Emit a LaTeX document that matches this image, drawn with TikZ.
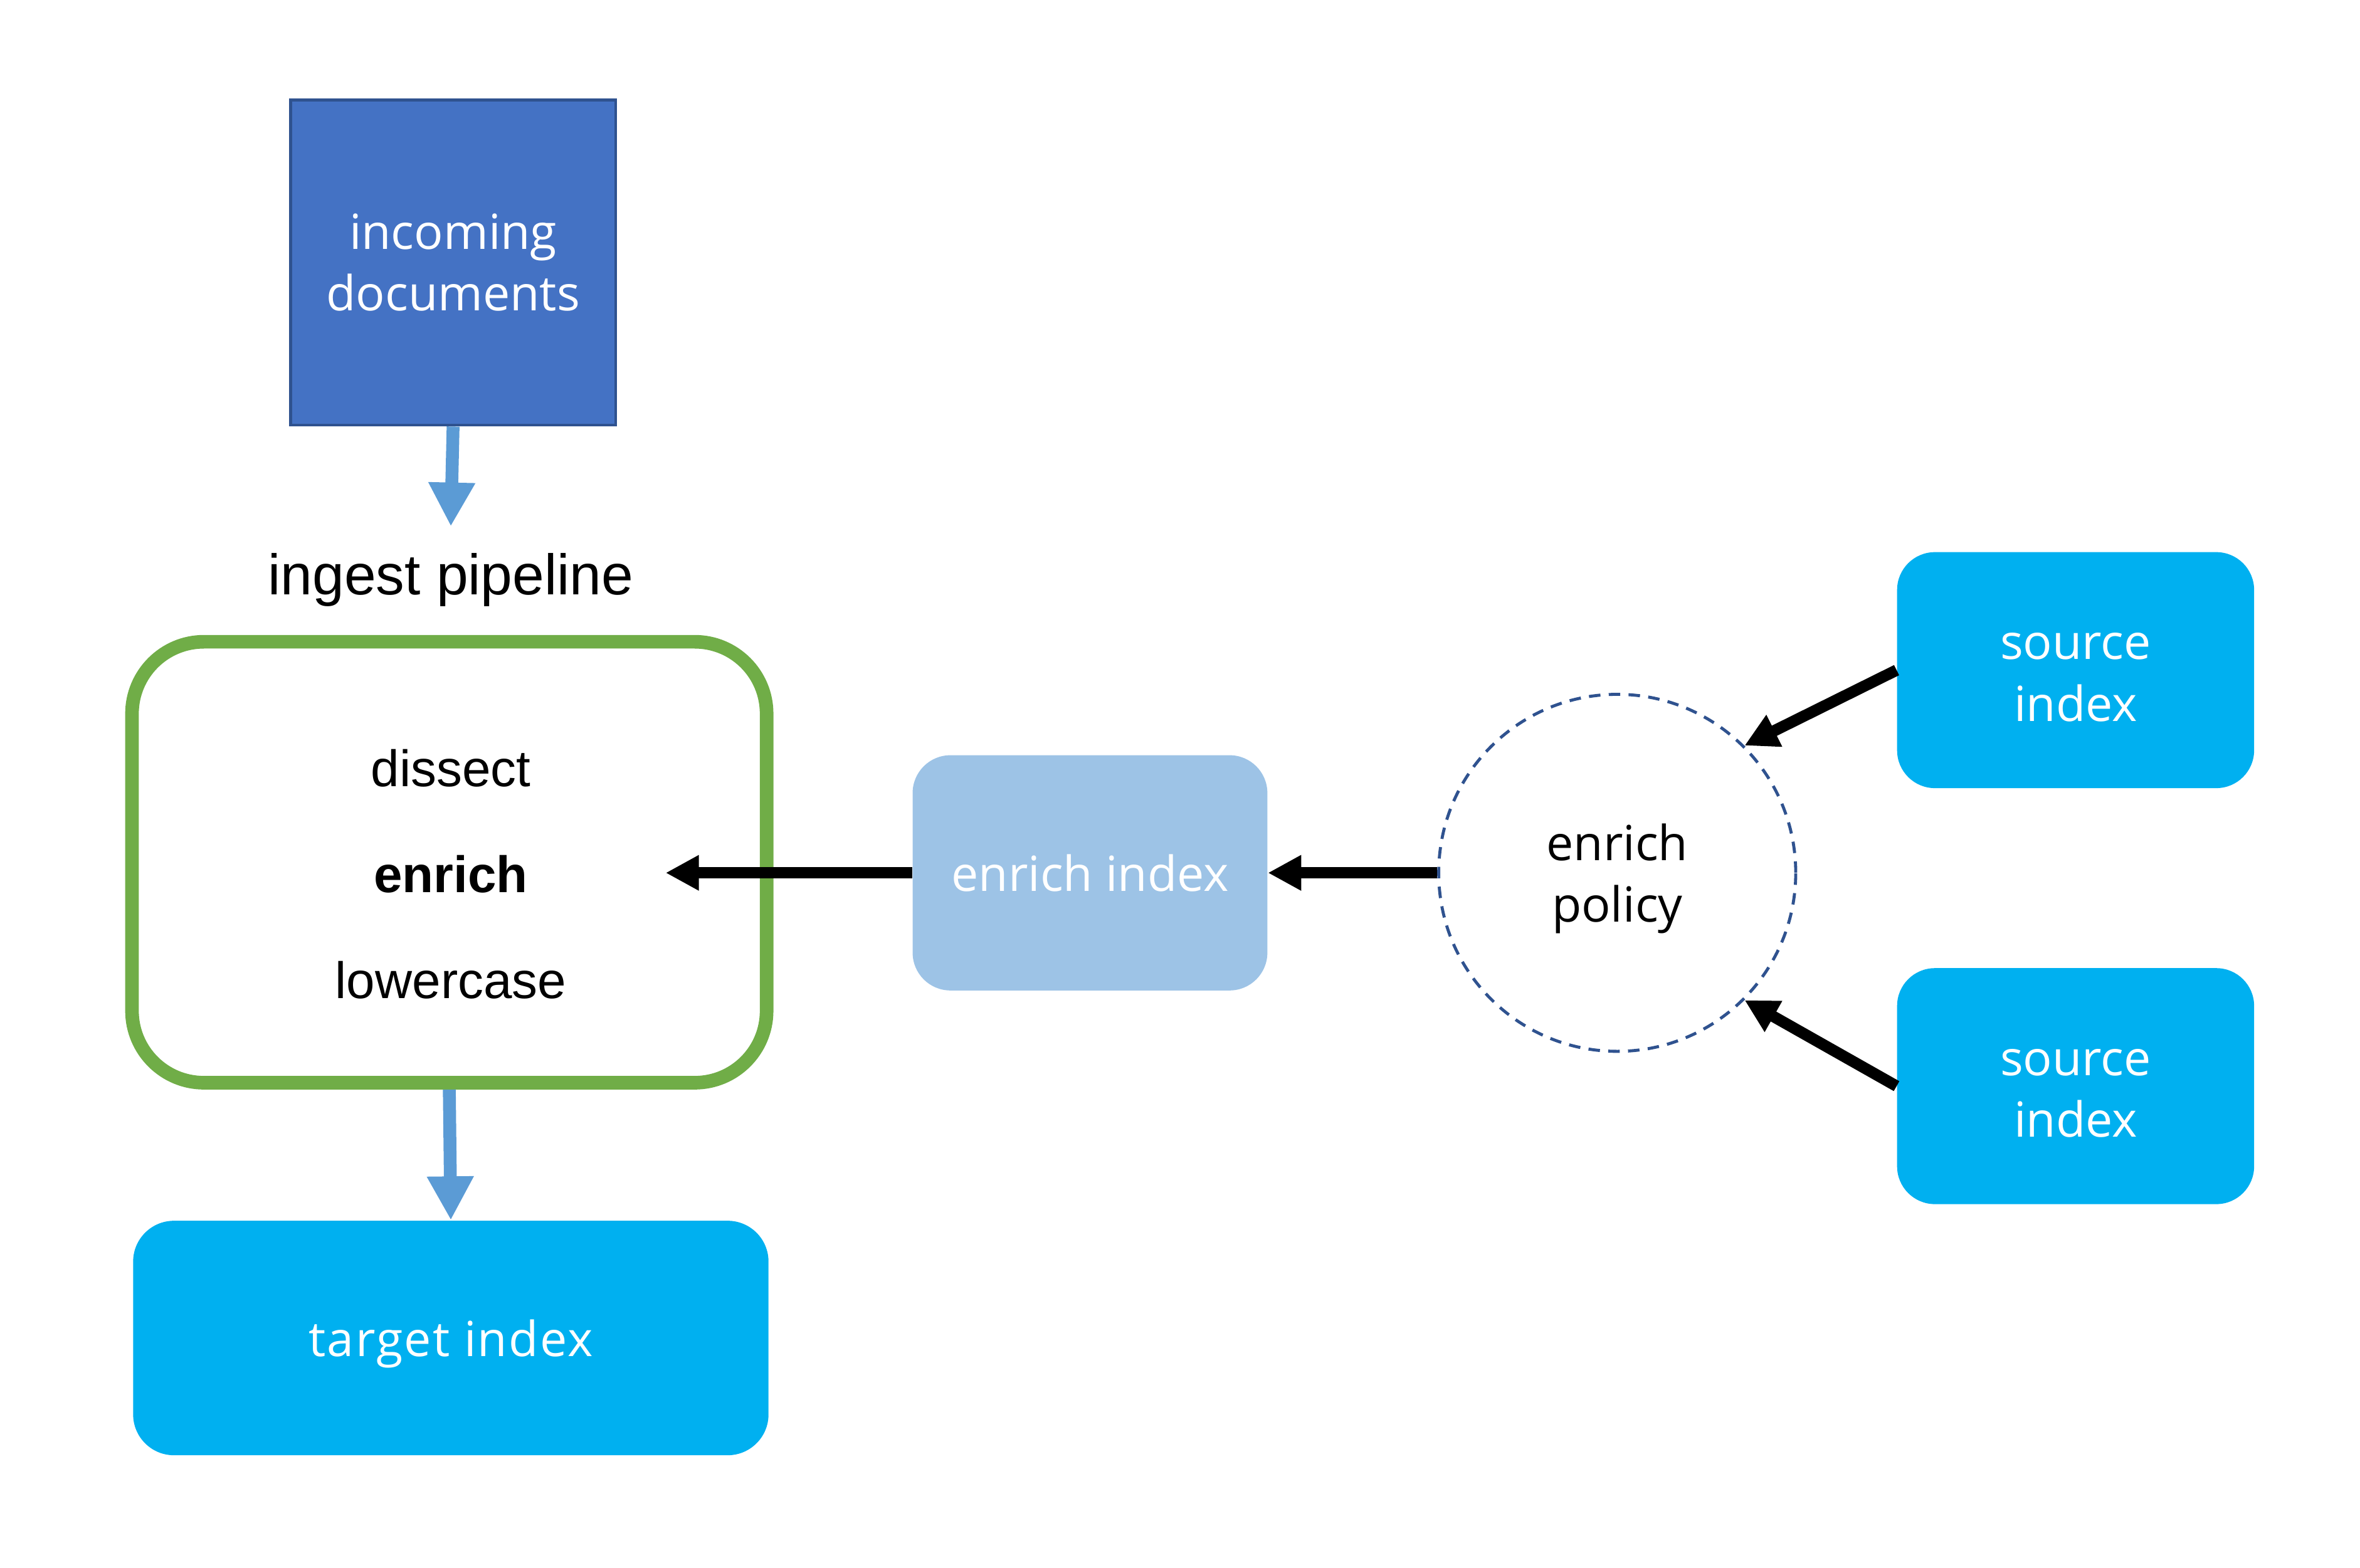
\documentclass[tikz,border=0pt]{standalone}
\usepackage{fontspec}
\setmainfont{Liberation Sans}
\newfontfamily\uifont{Open Sans}
\usepackage{tikz}
\usetikzlibrary{calc, shapes, arrows.meta}
\usetikzlibrary{positioning}
\definecolor{docblue}{HTML}{4472C4}
\definecolor{darkblue}{HTML}{2F528F}
\definecolor{flowblue}{HTML}{5B9BD5}
\definecolor{pipegreen}{HTML}{70AD47}
\definecolor{indexcyan}{HTML}{00B0F0}
\definecolor{enrichblue}{HTML}{9DC3E6}
\tikzstyle{indexbox} = [rectangle, fill=indexcyan, text=white, align=center, rounded corners=0.5cm, font=\uifont\fontsize{18.2}{23.2}\selectfont]
\tikzstyle{procitem} = [anchor=base, font=\fontsize{19.3}{23}\selectfont]
\tikzstyle{flow} = [draw=flowblue, line width=0.17cm, -{Triangle[length=0.58cm, width=0.58cm]}]
\tikzstyle{connector} = [draw, line width=0.15cm, -{Triangle[length=0.44cm, width=0.44cm]}]

\begin{document}
\begin{tikzpicture}
        \useasboundingbox (0, 0) rectangle (31.2, -20.73);

        \node[rectangle, draw=darkblue, line width=0.04cm, fill=docblue, minimum width=4.3cm, minimum height=4.3cm, text=white, align=center, font=\uifont\fontsize{18.2}{23.2}\selectfont] (docs) at (5.99, -3.47) {incoming\\documents};
        \coordinate (pipetop) at (5.96, -6.96);
        \node[anchor=base, font=\fontsize{21.5}{26}\selectfont] (pipelabel) at (5.96, -7.86) {ingest pipeline};

        \node[rectangle, draw=pipegreen, line width=0.18cm, rounded corners=0.95cm, minimum width=8.39cm, minimum height=5.83cm] (pipeline) at (5.94, -11.40) {};
        \node[procitem] (dissect) at (5.96, -10.40) {dissect};
        \node[procitem, font=\fontsize{19.3}{23}\selectfont\bfseries] (enrich) at (5.96, -11.80) {enrich};
        \node[procitem] (lowercase) at (5.96, -13.20) {lowercase};
        \coordinate (enrichin) at (8.80, -11.54);

        \node[indexbox, rounded corners=0.54cm, minimum width=8.4cm, minimum height=3.1cm, text depth=0pt, font=\uifont\addfontfeature{LetterSpace=3}\fontsize{18.2}{23.2}\selectfont] (target) at (5.96, -17.69) {target index};

        \node[indexbox, fill=enrichblue, minimum width=4.69cm, minimum height=3.11cm] (enrichidx) at (14.41, -11.54) {enrich index};

        \node[circle, draw=darkblue, line width=0.04cm, dash pattern=on 0.152cm off 0.11cm, minimum size=4.72cm, align=center, text depth=0pt, font=\uifont\fontsize{18.2}{23.2}\selectfont] (policy) at (21.38, -11.54) {enrich\\policy};

        \node[indexbox, minimum width=4.72cm, minimum height=3.12cm, text height=38.3pt, text depth=0pt] (src1) at (27.44, -8.86) {source\\index};
        \node[indexbox, minimum width=4.72cm, minimum height=3.12cm, text height=38.3pt, text depth=0pt] (src2) at (27.44, -14.36) {source\\index};

        \draw[flow] (docs.south) -- (pipetop);
        \draw[flow] (pipeline.south) -- (target.north);

        \draw[connector] (enrichidx.west) -- (enrichin);
        \draw[connector] (policy.west) -- (enrichidx.east);
        \draw[connector] (src1.west) -- (policy.45);
        \draw[connector] (src2.west) -- (policy.-45);

    \end{tikzpicture}
\end{document}
